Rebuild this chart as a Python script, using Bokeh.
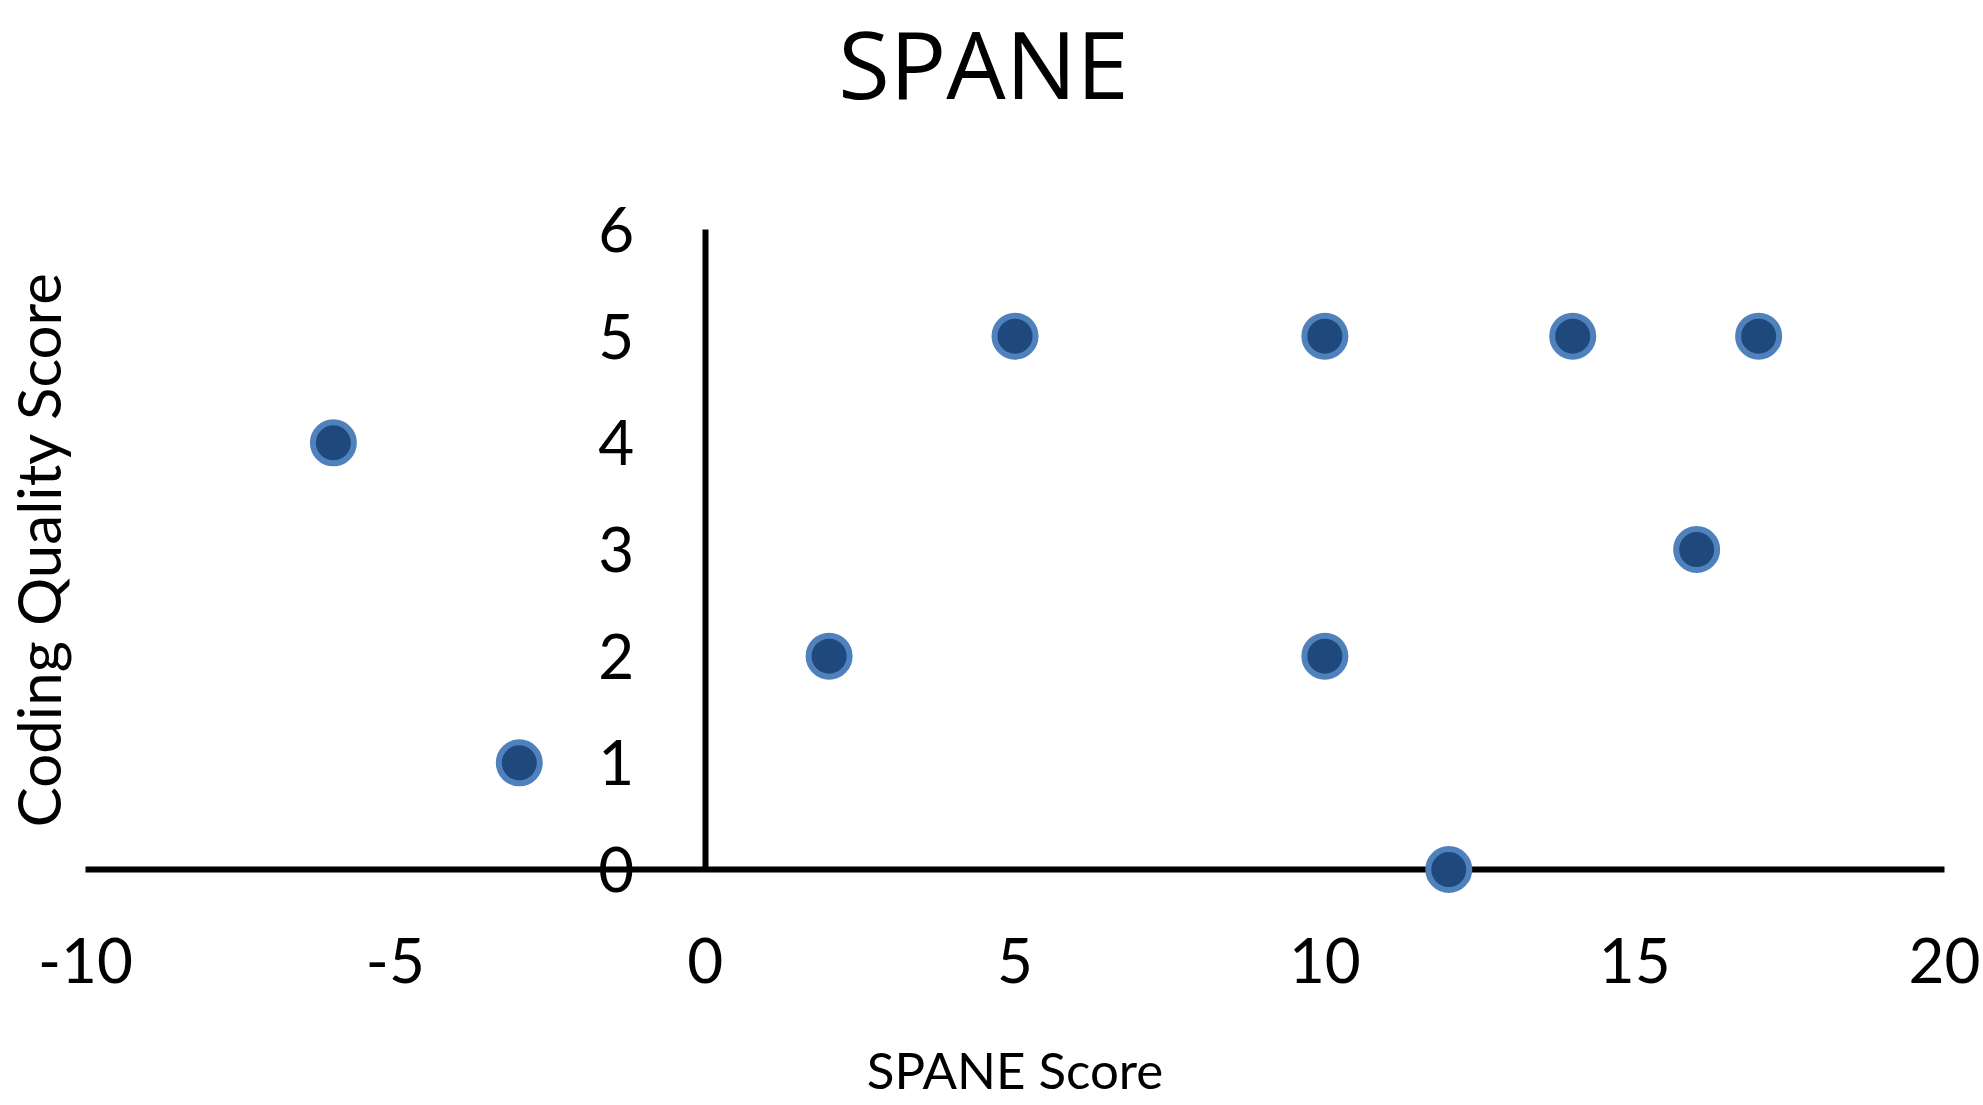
from bokeh.plotting import figure
from bokeh.models import Range1d, FixedTicker, Label
from bokeh.embed import file_html
from bokeh.resources import INLINE

# Data
spane_score = [-6, -3, 2, 5, 10, 10, 12, 14, 16, 17]
coding_quality = [4, 1, 2, 5, 5, 2, 0, 5, 3, 5]
x_ticks = [-10, -5, 0, 5, 10, 15, 20]
x_tick_labels = ["-10", "-5", "0", "5", "10", "15", "20"]
y_ticks = [0, 1, 2, 3, 4, 5, 6]
y_tick_labels = ["0", "1", "2", "3", "4", "5", "6"]

FONT = "Lato"

# The plot frame covers the whole canvas; the axes cross at (0, 0)
p = figure(width=1983, height=1105, output_backend="svg", toolbar_location=None,
           x_range=Range1d(-11.372, 20.629), y_range=Range1d(-2.2125, 8.147))
p.min_border = 0
p.min_border_left = 0
p.min_border_right = 0
p.min_border_top = 0
p.min_border_bottom = 0
p.outline_line_color = None
p.grid.visible = False
p.background_fill_color = "white"
p.border_fill_color = "white"

# x axis along y = 0, labels well below the line (Excel "low" position)
xa = p.xaxis[0]
xa.fixed_location = 0
xa.bounds = (x_ticks[0], x_ticks[-1])
xa.level = "underlay"
xa.ticker = FixedTicker(ticks=x_ticks)
xa.major_label_overrides = dict(zip(x_ticks, x_tick_labels))
xa.axis_line_color = "black"
xa.axis_line_width = 6
xa.major_tick_line_color = None
xa.minor_tick_line_color = None
xa.major_tick_out = 0
xa.major_tick_in = 0
xa.major_label_standoff = 68
xa.major_label_text_font = FONT
xa.major_label_text_font_size = "62px"
xa.major_label_text_color = "black"
xa.axis_label = "SPANE Score"
xa.axis_label_text_font = FONT
xa.axis_label_text_font_size = "51px"
xa.axis_label_text_font_style = "normal"
xa.axis_label_text_color = "black"
xa.axis_label_standoff = 53

# y axis along x = 0
ya = p.yaxis[0]
ya.fixed_location = 0
ya.bounds = (y_ticks[0], y_ticks[-1])
ya.level = "underlay"
ya.ticker = FixedTicker(ticks=y_ticks)
ya.major_label_overrides = dict(zip(y_ticks, y_tick_labels))
ya.axis_line_color = "black"
ya.axis_line_width = 6
ya.major_tick_line_color = None
ya.minor_tick_line_color = None
ya.major_tick_out = 0
ya.major_tick_in = 0
ya.major_label_standoff = 71
ya.major_label_text_font = FONT
ya.major_label_text_font_size = "62px"
ya.major_label_text_color = "black"
ya.axis_label = "Coding Quality Score"
ya.axis_label_text_font = FONT
ya.axis_label_text_font_size = "60px"
ya.axis_label_text_font_style = "normal"
ya.axis_label_text_color = "black"
ya.axis_label_standoff = 522

p.scatter(spane_score, coding_quality, size=41, fill_color="#1F497D",
          line_color="#4F81BD", line_width=6)

# title
p.add_layout(Label(x=983, y=1043, x_units="screen", y_units="screen",
                   text="SPANE", text_align="center", text_baseline="middle",
                   text_font="Open Sans", text_font_style="normal",
                   text_font_size="94px", text_color="black"))

open("out.html", "w").write(file_html(p, INLINE))
